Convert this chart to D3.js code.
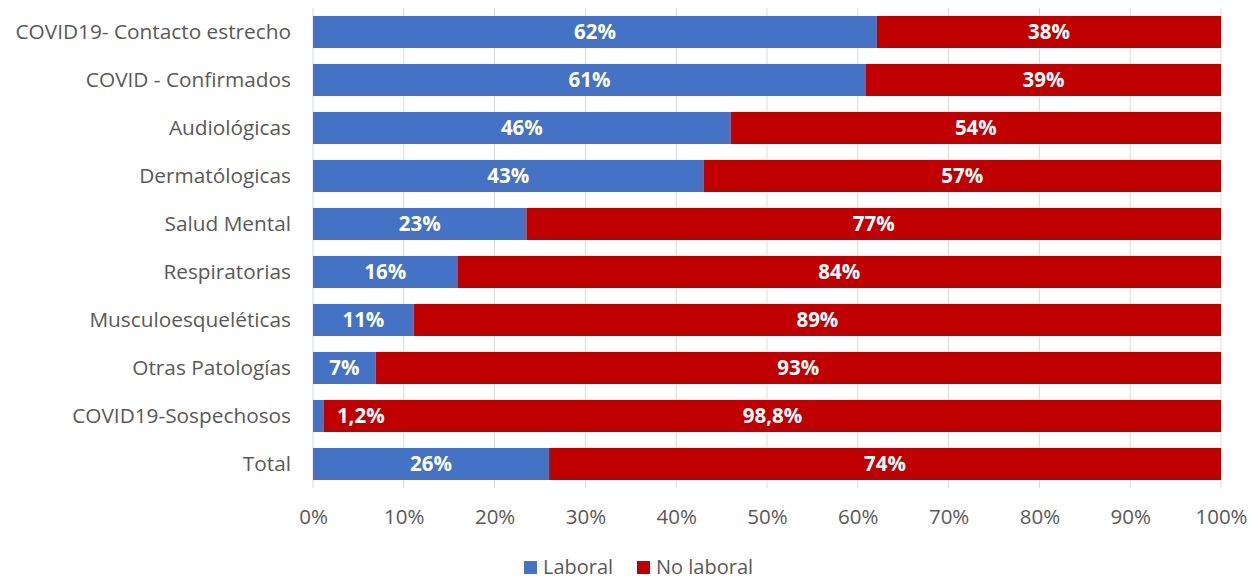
<!DOCTYPE html>
<html>
<head>
<meta charset="utf-8">
<script src="https://cdn.jsdelivr.net/npm/d3@7"></script>
<style>
  body { margin: 0; background: #fff; overflow: hidden; }
  text { font-family: "Open Sans", "DejaVu Sans", sans-serif; }
</style>
</head>
<body>
<script>
// categories and values
var categories = ["COVID19- Contacto estrecho", "COVID - Confirmados", "Audiológicas", "Dermatólogicas",
  "Salud Mental", "Respiratorias", "Musculoesqueléticas", "Otras Patologías", "COVID19-Sospechosos", "Total"];
var laboral = [62.1, 60.9, 46, 43, 23.5, 15.9, 11.1, 6.9, 1.2, 26];
var noLaboral = [37.9, 39.1, 54, 57, 76.5, 84.1, 88.9, 93.1, 98.8, 74];
var laboralLabels = ["62%", "61%", "46%", "43%", "23%", "16%", "11%", "7%", "1,2%", "26%"];
var noLaboralLabels = ["38%", "39%", "54%", "57%", "77%", "84%", "89%", "93%", "98,8%", "74%"];
var ticks = [0, 10, 20, 30, 40, 50, 60, 70, 80, 90, 100];
var seriesNames = ["Laboral", "No laboral"];
var colors = ["#4472C4", "#C00000"];

var W = 1251, H = 580;
var margin = { top: 8, right: 30, bottom: 92, left: 313 };
var width = 1221 - margin.left;
var height = 480;
var fs = 20.8;

var svg = d3.select("body").append("svg")
  .attr("width", W)
  .attr("height", H);

var g = svg.append("g")
  .attr("transform", "translate(" + margin.left + "," + margin.top + ")");

var x = d3.scaleLinear().domain([0, 100]).range([0, width]);
var y = d3.scaleBand().domain(categories).range([0, height]).paddingInner(1 / 3).paddingOuter(1 / 6);

// gridlines
g.selectAll(".grid")
  .data(ticks)
  .enter().append("line")
  .attr("x1", function(d) { return x(d); })
  .attr("x2", function(d) { return x(d); })
  .attr("y1", 0)
  .attr("y2", height)
  .attr("stroke", "#d9d9d9")
  .attr("stroke-width", 1);

// rows
var rows = categories.map(function(c, i) {
  return { cat: c, lab: laboral[i], no: noLaboral[i], labT: laboralLabels[i], noT: noLaboralLabels[i] };
});

g.selectAll(".lab")
  .data(rows)
  .enter().append("rect")
  .attr("x", x(0))
  .attr("y", function(d) { return y(d.cat); })
  .attr("width", function(d) { return x(d.lab) - x(0); })
  .attr("height", y.bandwidth())
  .attr("fill", colors[0]);

g.selectAll(".no")
  .data(rows)
  .enter().append("rect")
  .attr("x", function(d) { return x(d.lab); })
  .attr("y", function(d) { return y(d.cat); })
  .attr("width", function(d) { return x(d.lab + d.no) - x(d.lab); })
  .attr("height", y.bandwidth())
  .attr("fill", colors[1]);

// data labels
g.selectAll(".labT")
  .data(rows)
  .enter().append("text")
  .attr("x", function(d) {
    // too narrow: label was moved just right of the segment
    return d.lab < 3 ? x(d.lab) + 13 : x(d.lab / 2);
  })
  .attr("y", function(d) { return y(d.cat) + y.bandwidth() / 2; })
  .attr("dy", "0.35em")
  .attr("text-anchor", function(d) { return d.lab < 3 ? "start" : "middle"; })
  .attr("fill", "#fff")
  .attr("font-weight", "bold")
  .attr("font-size", 20.5)
  .text(function(d) { return d.labT; });

g.selectAll(".noT")
  .data(rows)
  .enter().append("text")
  .attr("x", function(d) { return x(d.lab + d.no / 2); })
  .attr("y", function(d) { return y(d.cat) + y.bandwidth() / 2; })
  .attr("dy", "0.35em")
  .attr("text-anchor", "middle")
  .attr("fill", "#fff")
  .attr("font-weight", "bold")
  .attr("font-size", 20.5)
  .text(function(d) { return d.noT; });

// y axis labels
var yAxis = d3.axisLeft(y).tickSize(0).tickPadding(22);
var ya = g.append("g").call(yAxis);
ya.select(".domain").remove();
ya.selectAll("text")
  .attr("font-size", fs)
  .attr("fill", "#595959")
  .style("font-family", "'Open Sans', sans-serif");

// x axis
var xAxis = d3.axisBottom(x).tickValues(ticks).tickSize(0).tickPadding(21)
  .tickFormat(function(d) { return d + "%"; });
var xa = g.append("g").attr("transform", "translate(0," + height + ")").call(xAxis);
xa.select(".domain").remove();
xa.selectAll("text")
  .attr("font-size", 20.5)
  .attr("fill", "#595959")
  .style("font-family", "'Open Sans', sans-serif");

// legend
var legend = svg.append("g").attr("transform", "translate(524,558)");
var lx = [0, 113];
seriesNames.forEach(function(s, i) {
  legend.append("rect")
    .attr("x", lx[i]).attr("y", 3)
    .attr("width", 13).attr("height", 13)
    .attr("fill", colors[i]);
  legend.append("text")
    .attr("x", lx[i] + 19).attr("y", 9)
    .attr("dy", "0.35em")
    .attr("font-size", 20)
    .attr("fill", "#595959")
    .text(s);
});
</script>
</body>
</html>
